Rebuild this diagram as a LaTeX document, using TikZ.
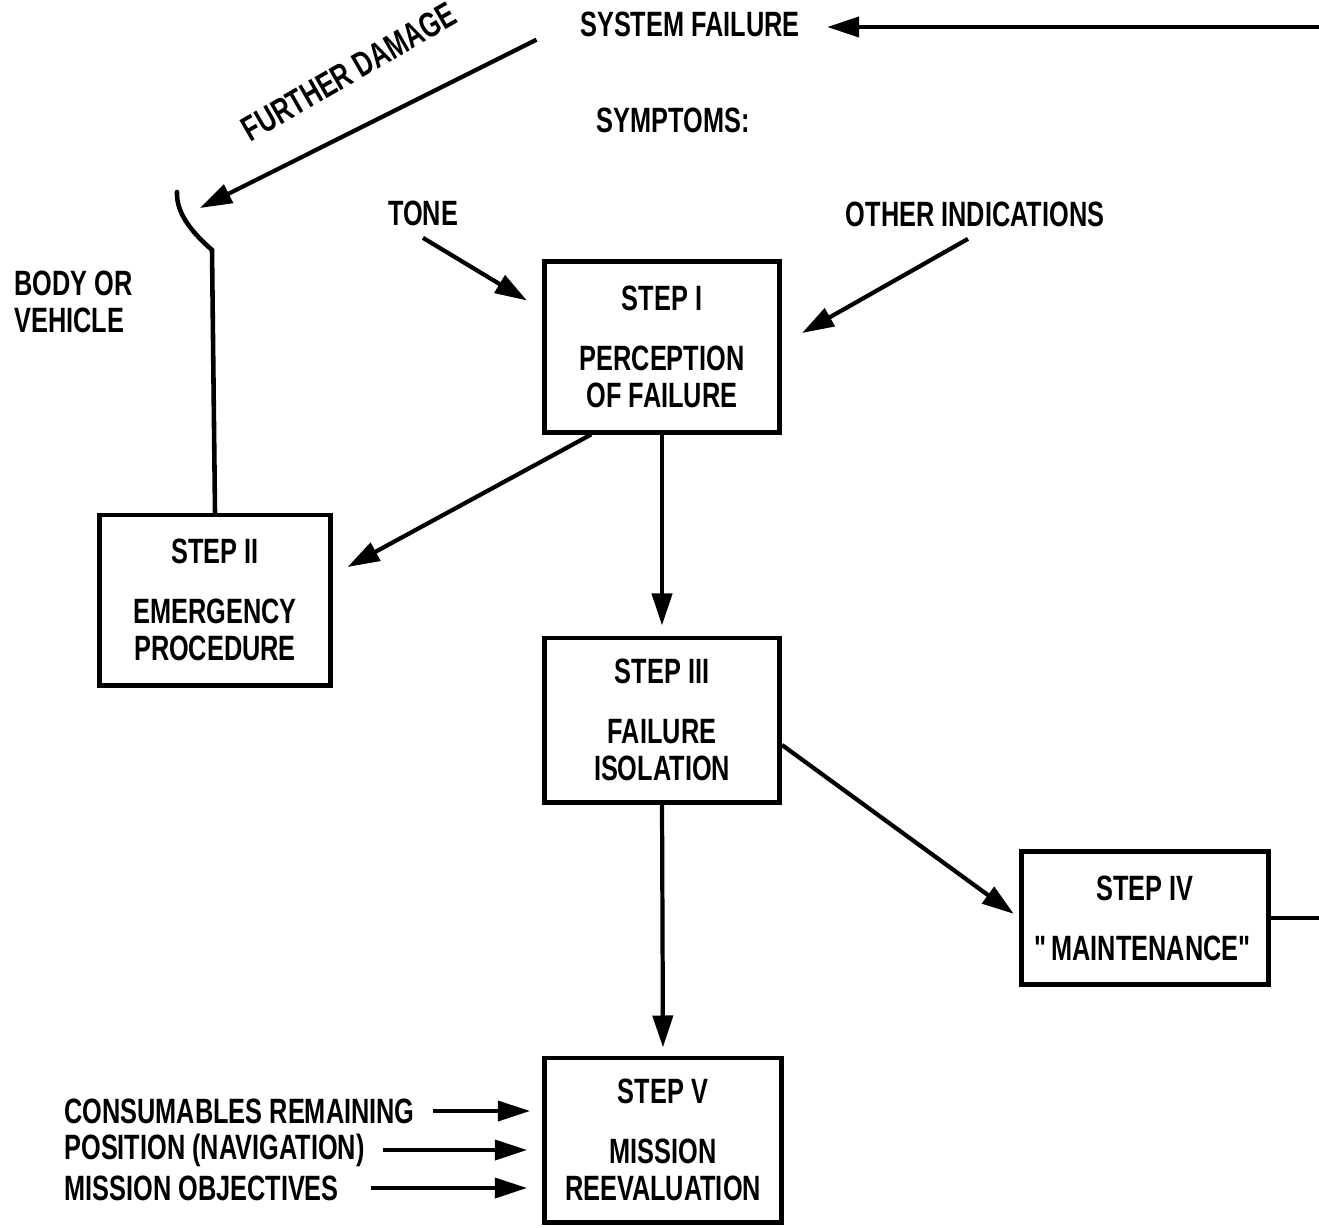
\documentclass[tikz,border=0pt]{standalone}
\usepackage{fontspec}
\setmainfont[FakeStretch=0.72]{Liberation Sans}
\usetikzlibrary{arrows.meta}

\begin{document}
\begin{tikzpicture}[x=0.01cm,y=-0.01cm,
  box/.style={draw,line width=1.4pt,align=center,inner sep=0pt},
  arr/.style={line width=1.2pt,-{Triangle[length=0.32cm,width=0.2cm]}},
  every node/.append style={font=\fontsize{10}{10.5}\selectfont\bfseries}]
\useasboundingbox (0,0) rectangle (1319,1227);
% boxes
\node[box,minimum width=2.35cm,minimum height=1.70cm] (s1) at (662,347) {STEP I\\[6.5pt]PERCEPTION\\OF FAILURE};
\node[box,minimum width=2.30cm,minimum height=1.70cm] (s2) at (215,600) {STEP II\\[6.5pt]EMERGENCY\\PROCEDURE};
\node[box,minimum width=2.35cm,minimum height=1.64cm] (s3) at (662,720) {STEP III\\[6.5pt]FAILURE\\ISOLATION};
\node[box,minimum width=2.46cm,minimum height=1.33cm] (s4) at (1145,918) {STEP IV\\[6.5pt]\textquotedbl MAINTENANCE\textquotedbl};
\node[box,minimum width=2.37cm,minimum height=1.64cm] (s5) at (663,1140) {STEP V\\[6.5pt]MISSION\\REEVALUATION};
% labels
\node (sf) at (690,24) {SYSTEM FAILURE};
\node (sy) at (673,120) {SYMPTOMS:};
\node[rotate=30] (fd) at (349,72) {FURTHER DAMAGE};
\node (tone) at (423,213) {TONE};
\node (oi) at (975,214) {OTHER INDICATIONS};
\node[align=left,anchor=north west] (bv) at (2,259) {BODY OR\\VEHICLE};
\node[anchor=west] (cr) at (52,1111) {CONSUMABLES REMAINING};
\node[anchor=west] (pn) at (52,1150) {POSITION (NAVIGATION)};
\node[anchor=west] (mo) at (52,1188) {MISSION OBJECTIVES};
\coordinate (e1) at (1319,27);
\coordinate (e2) at (1319,922);
\coordinate (hk) at (200,208);
% connectors
\draw[arr,shorten >=0.15cm] (e1) -- (sf.east |- e1);
\draw[arr,shorten <=0.35cm] (sf.west) -- (hk);
\draw[line width=1.3pt,line cap=round] (177,192) .. controls (176,215) and (195,235) .. (212,250) -- (s2.north);
\draw[arr] (tone.south) -- ([xshift=-0.15cm,yshift=-0.41cm]s1.north west);
\draw[arr] ([xshift=-0.07cm]oi.south) -- ([xshift=0.2cm,yshift=0.14cm]s1.east);
\draw[arr] (s1.231) -- ([xshift=0.15cm,yshift=0.33cm]s2.east);
\draw[arr,shorten >=0.1cm] (s1.south) -- (s3.north);
\draw[arr,shorten >=0.07cm] ([yshift=-0.25cm]s3.east) -- (s4.west);
\draw[line width=1.2pt] (s4.east) -- (s4.east -| e2);
\draw[arr,shorten >=0.08cm] (s3.south) -- (s5.north);
\draw[arr,line width=1pt,shorten <=0.06cm,shorten >=0.12cm] (cr.east) -- (cr.east -| s5.west);
\draw[arr,line width=1pt,shorten <=0.06cm,shorten >=0.15cm] (pn.east) -- (pn.east -| s5.west);
\draw[arr,line width=1pt,shorten <=0.2cm,shorten >=0.15cm] (mo.east) -- (mo.east -| s5.west);
\end{tikzpicture}
\end{document}
